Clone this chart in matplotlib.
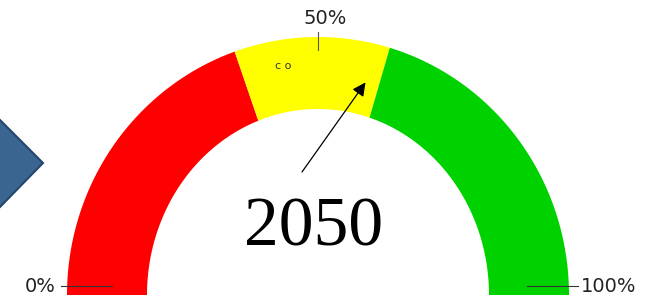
import numpy as np
import matplotlib.pyplot as plt
from matplotlib.patches import Polygon

# gauge data
bounds = [0, 39.5, 59, 100]
seg_colors = ['#ff0000', '#ffff00', '#00d200']
tick_values = [0, 50, 100]
tick_labels = ['0%', '50%', '100%']
pointer_value = 57
year_label = '2050'

# layout (pixel space)
cx, cy = 318, 295
rx_out, ry_out = 251, 258
rx_in, ry_in = 171, 186


def val_to_ang(v):
    return np.pi * (1 - v / 100.0)


def ring_point(v, frac):
    # point along the ray at angle of v, on an ellipse between inner and outer
    a = val_to_ang(v)
    rx = rx_in + (rx_out - rx_in) * frac
    ry = ry_in + (ry_out - ry_in) * frac
    r = 1.0 / np.sqrt((np.cos(a) / rx) ** 2 + (np.sin(a) / ry) ** 2)
    return cx + r * np.cos(a), cy - r * np.sin(a)


fig = plt.figure(figsize=(6.57, 2.97), dpi=100)
ax = fig.add_axes([0, 0, 1, 1])
ax.set_xlim(0, 657)
ax.set_ylim(297, 0)
ax.axis('off')

for i in range(len(seg_colors)):
    vs = np.linspace(bounds[i], bounds[i + 1], 200)
    outer = np.array([ring_point(v, 1) for v in vs])
    inner = np.array([ring_point(v, 0) for v in vs[::-1]])
    pts = np.vstack([outer, inner])
    ax.add_patch(Polygon(pts, closed=True, facecolor=seg_colors[i], edgecolor='none'))

# tick labels with leader lines
for v, lab in zip(tick_values, tick_labels):
    if v == 0:
        ax.plot([61, 112], [286, 286], color='#333333', lw=0.8)
        ax.text(56, 286, lab, ha='right', va='center', fontsize=14, color='#222222')
    elif v == 100:
        ax.plot([527, 578], [286, 286], color='#333333', lw=0.8)
        ax.text(581, 286, lab, ha='left', va='center', fontsize=14, color='#222222')
    else:
        x, _ = ring_point(v, 1)
        ax.plot([x, x], [32, 50], color='#555555', lw=0.8)
        ax.text(x + 7, 18, lab, ha='center', va='center', fontsize=14, color='#222222')

ax.text(283, 66, 'c o', ha='center', va='center', fontsize=8, color='#333333')

# pointer arrow
tip = ring_point(pointer_value, 0.45)
ax.annotate('', xy=tip, xytext=(302, 172),
            arrowprops=dict(arrowstyle='-|>', color='black', lw=0.9,
                            mutation_scale=20, shrinkA=0, shrinkB=0))

ax.text(314, 229, year_label, ha='center', va='center', fontsize=50,
        family=['Liberation Serif', 'DejaVu Serif'], color='black')

# blue chevron at left edge
ax.add_patch(Polygon([[-10, 110], [0, 120], [43, 163], [0, 207], [-10, 217]],
                     closed=True, facecolor='#3a6591', edgecolor='#25466f', lw=1.5))

fig.savefig('out.png', dpi=100)
